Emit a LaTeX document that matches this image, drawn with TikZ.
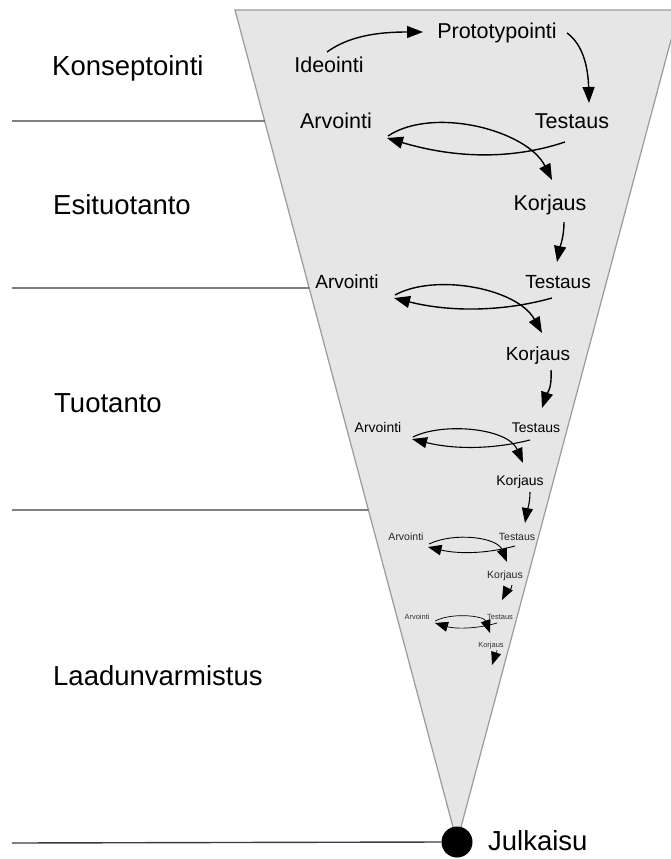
\documentclass[tikz,border=0pt]{standalone}
\usepackage{fontspec}
\setmainfont{Liberation Sans}
\usetikzlibrary{arrows.meta,calc}
\definecolor{funnel}{HTML}{E6E6E6}
\definecolor{funneledge}{HTML}{9A9A9A}
\definecolor{rule}{HTML}{3C3C3C}
\begin{document}
\begin{tikzpicture}[x=1pt,y=-1pt,
  phase/.style={anchor=base west,inner sep=0pt,font=\fontsize{27.5}{30}\selectfont},
  lone/.style={anchor=base,inner sep=0pt,font=\fontsize{21.5}{24}\selectfont},
  ltwo/.style={anchor=base,inner sep=0pt,font=\fontsize{19}{21}\selectfont},
  lthree/.style={anchor=base,inner sep=0pt,font=\fontsize{14}{16}\selectfont},
  lfour/.style={anchor=base,inner sep=0pt,text=black!85,font=\fontsize{10.5}{12}\selectfont},
  lfive/.style={anchor=base,inner sep=0pt,text=black!80,font=\fontsize{7.5}{9}\selectfont},
  flow/.style={-{Triangle[length=16pt,width=12pt]},line width=1.4pt},
  flowc/.style={-{Triangle[length=15pt,width=11pt]},line width=1.1pt},
  flowd/.style={-{Triangle[length=13.5pt,width=10.5pt]},line width=0.9pt},
  flowe/.style={-{Triangle[length=13pt,width=10pt]},line width=0.7pt},
  divider/.style={draw=rule,line width=1.4pt}]

\useasboundingbox (0,0) rectangle (671,859);
\clip (0,0) rectangle (671,859);

% funnel
\coordinate (tl) at (235,10);
\coordinate (tr) at (679,10);
\coordinate (apex) at (457,842);
\filldraw[fill=funnel,draw=funneledge,line width=1.2pt] (tl) -- (tr) -- (apex) -- cycle;

% release point
\node[circle,fill=black,minimum size=31pt,inner sep=0pt] (dot) at (457,842) {};

% phase dividers
\draw[divider] (12,121) -- ($(tl)!0.1334!(apex)$);
\draw[divider] (12,288) -- ($(tl)!0.3341!(apex)$);
\draw[divider] (12,510) -- ($(tl)!0.6010!(apex)$);
\draw[divider] (12,843) -- (dot.west);

% phase names
\node[phase] (konsept) at (52,75) {Konseptointi};
\node[phase] (esituot) at (53,214) {Esituotanto};
\node[phase] (tuot) at (54,412) {Tuotanto};
\node[phase] (laatu) at (53,685) {Laadunvarmistus};
\node[phase] (julk) at (488,850) {Julkaisu};

% activities
\node[lone] (ideo) at (329,72) {Ideointi};
\node[lone] (proto) at (497,38) {Prototypointi};
\node[lone] (t1) at (572,128) {Testaus};
\node[lone] (a1) at (336,128) {Arvointi};
\node[lone] (k1) at (550,210) {Korjaus};
\node[ltwo] (t2) at (558,288) {Testaus};
\node[ltwo] (a2) at (347,288) {Arvointi};
\node[ltwo] (k2) at (538,360) {Korjaus};
\node[lthree] (t3) at (536,432) {Testaus};
\node[lthree] (a3) at (378,432) {Arvointi};
\node[lthree] (k3) at (520,485) {Korjaus};
\node[lfour] (t4) at (517,540) {Testaus};
\node[lfour] (a4) at (406,540) {Arvointi};
\node[lfour] (k4) at (505,578) {Korjaus};
\node[lfive] (t5) at (500,619) {Testaus};
\node[lfive] (a5) at (417,619) {Arvointi};
\node[lfive] (k5) at (491,647) {Korjaus};
\coordinate (kend) at (492,665);

% first cycle
\draw[flow] ([shift={(-2,-20)}]ideo.base) .. controls +(22,-16) and +(-45,0) .. ([shift={(-74,-6)}]proto.base);
\draw[flow] ([shift={(70,-5)}]proto.base) .. controls +(14,10) and +(-1,-40) .. ([shift={(17,-25)}]t1.base);
\draw[flow] ([shift={(-7,14)}]t1.base) .. controls +(-60,20) and +(60,18) .. ([shift={(51,10)}]a1.base);
\draw[flow] ([shift={(52,8)}]a1.base) .. controls +(45,-30) and +(-25,-50) .. ([shift={(2,-30)}]k1.base);
\draw[flow] ([shift={(14,12)}]k1.base) .. controls +(0,15) and +(3,-15) .. ([shift={(-1,-26)}]t2.base);

% second cycle
\draw[flow] ([shift={(-6,10)}]t2.base) .. controls +(-50,14) and +(55,14) .. ([shift={(47,10)}]a2.base);
\draw[flow] ([shift={(48,7)}]a2.base) .. controls +(40,-22) and +(-25,-45) .. ([shift={(4,-27)}]k2.base);
\draw[flow] ([shift={(13,10)}]k2.base) .. controls +(1,20) and +(5,-15) .. ([shift={(6,-24)}]t3.base);

% third cycle
\draw[flowc] ([shift={(-6,8)}]t3.base) .. controls +(-40,10) and +(40,10) .. ([shift={(34,7)}]a3.base);
\draw[flowc] ([shift={(35,5)}]a3.base) .. controls +(30,-15) and +(-15,-35) .. ([shift={(3,-22)}]k3.base);
\draw[flowc] ([shift={(10,7)}]k3.base) .. controls +(0,12) and +(2,-12) .. ([shift={(8,-17)}]t4.base);

% fourth cycle
\draw[flowd] ([shift={(-2,6)}]t4.base) .. controls +(-30,8) and +(30,7) .. ([shift={(22,7)}]a4.base);
\draw[flowd] ([shift={(23,4)}]a4.base) .. controls +(25,-12) and +(-10,-25) .. ([shift={(2,-16)}]k4.base);
\draw[flowd] ([shift={(7,7)}]k4.base) .. controls +(0,6) and +(3,-6) .. ([shift={(2,-19)}]t5.base);

% fifth cycle
\draw[flowe] ([shift={(-3,4)}]t5.base) .. controls +(-20,6) and +(20,6) .. ([shift={(18,4)}]a5.base);
\draw[flowe] ([shift={(18,2)}]a5.base) .. controls +(18,-9) and +(-6,-17) .. ([shift={(-1,-14)}]k5.base);
\draw[flowe] ([shift={(6,3)}]k5.base) .. controls +(0,6) and +(2,-6) .. (kend);

\end{tikzpicture}
\end{document}
